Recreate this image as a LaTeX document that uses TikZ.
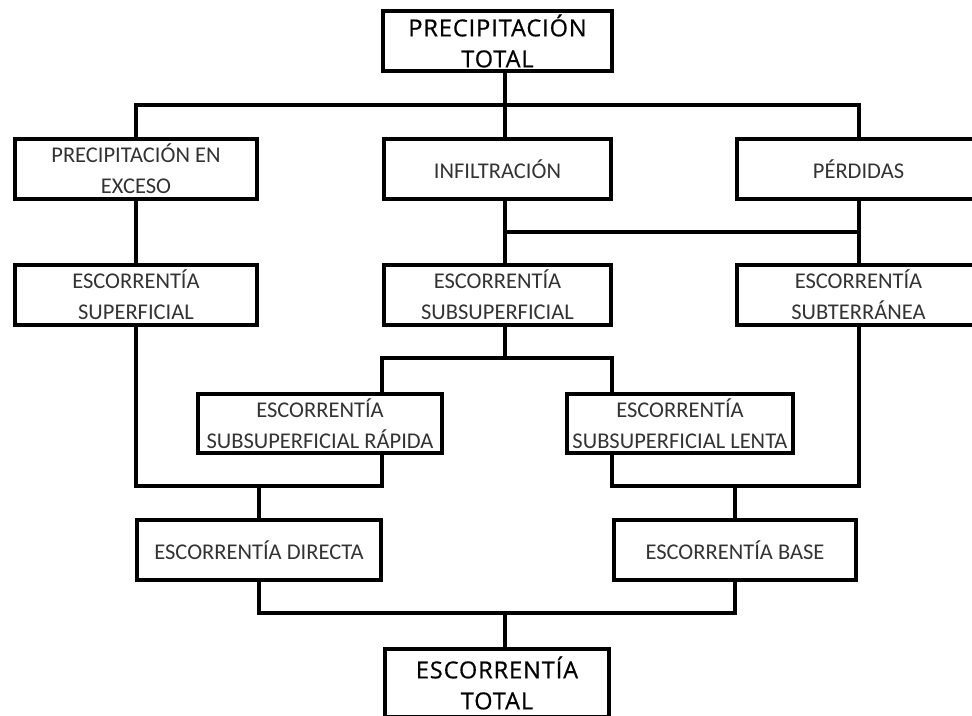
\documentclass[tikz,border=0pt]{standalone}
\usepackage{fontspec}
\setmainfont{Carlito}
\newfontfamily\headfont[LetterSpace=4,FakeBold=0.6]{Open Sans}
\usetikzlibrary{calc}
\tikzset{
  box/.style={draw, line width=4pt, rectangle, align=center, inner sep=0pt,
    font=\fontsize{22.5}{31}\selectfont, text=black!80},
  headbox/.style={draw, line width=4pt, rectangle, align=center, inner sep=0pt,
    font=\headfont\fontsize{23.5}{31}\selectfont, text=black},
  conn/.style={line width=4pt, line join=miter}
}
\begin{document}
\begin{tikzpicture}[x=1pt,y=-1pt]
\useasboundingbox (0,0) rectangle (972,715);
% nodes
\node[headbox, minimum width=229pt, minimum height=60pt] (top) at (497.5,41) {PRECIPITACIÓN\\TOTAL};
\node[box, minimum width=242pt, minimum height=60pt] (exceso) at (136,169) {PRECIPITACIÓN EN\\EXCESO};
\node[box, minimum width=227pt, minimum height=60pt] (infil) at (497.5,169) {INFILTRACIÓN};
\node[box, minimum width=243pt, minimum height=60pt] (perd) at (858.5,169) {PÉRDIDAS};
\node[box, minimum width=242pt, minimum height=60pt] (sup) at (136,295) {ESCORRENTÍA\\SUPERFICIAL};
\node[box, minimum width=227pt, minimum height=60pt] (subsup) at (497.5,295) {ESCORRENTÍA\\SUBSUPERFICIAL};
\node[box, minimum width=243pt, minimum height=60pt] (subter) at (858.5,295) {ESCORRENTÍA\\SUBTERRÁNEA};
\node[box, minimum width=244pt, minimum height=59pt] (rapida) at (320,423.5) {ESCORRENTÍA\\SUBSUPERFICIAL RÁPIDA};
\node[box, minimum width=226pt, minimum height=59pt] (lenta) at (680,423.5) {ESCORRENTÍA\\SUBSUPERFICIAL LENTA};
\node[box, minimum width=244pt, minimum height=60pt] (directa) at (259,550) {ESCORRENTÍA DIRECTA};
\node[box, minimum width=242pt, minimum height=60pt] (base) at (735,550) {ESCORRENTÍA BASE};
\node[headbox, minimum width=224pt, minimum height=68pt] (total) at (497,683) {ESCORRENTÍA\\TOTAL};
% coordinates
\coordinate (c1) at (505,105);
\coordinate (c2) at (505,232);
\coordinate (c3) at (505,358);
\coordinate (c4) at (505,486);
\coordinate (c5) at (505,613);
% connectors
\draw[conn] (top.south -| c1) -- (c1);
\draw[conn] (exceso.north) |- (c1) -| (perd.north);
\draw[conn] (c1) -- (infil.north -| c1);
\draw[conn] (exceso.south) -- (sup.north);
\draw[conn] (infil.south -| c1) -- (subsup.north -| c1);
\draw[conn] (c2) -| (perd.south);
\draw[conn] (perd.south) -- (subter.north);
\draw[conn] (subsup.south -| c3) -- (c3);
\draw[conn] (rapida.north -| 382,0) |- (c3) -| (lenta.north -| 612,0);
\draw[conn] (sup.south) |- (c4 -| 382,0) -- (rapida.south -| 382,0);
\draw[conn] (subter.south) |- (c4 -| 612,0) -- (lenta.south -| 612,0);
\draw[conn] (c4 -| directa.north) -- (directa.north);
\draw[conn] (c4 -| base.north) -- (base.north);
\draw[conn] (directa.south) |- (c5) -| (base.south);
\draw[conn] (c5) -- (total.north -| c5);
\end{tikzpicture}
\end{document}
